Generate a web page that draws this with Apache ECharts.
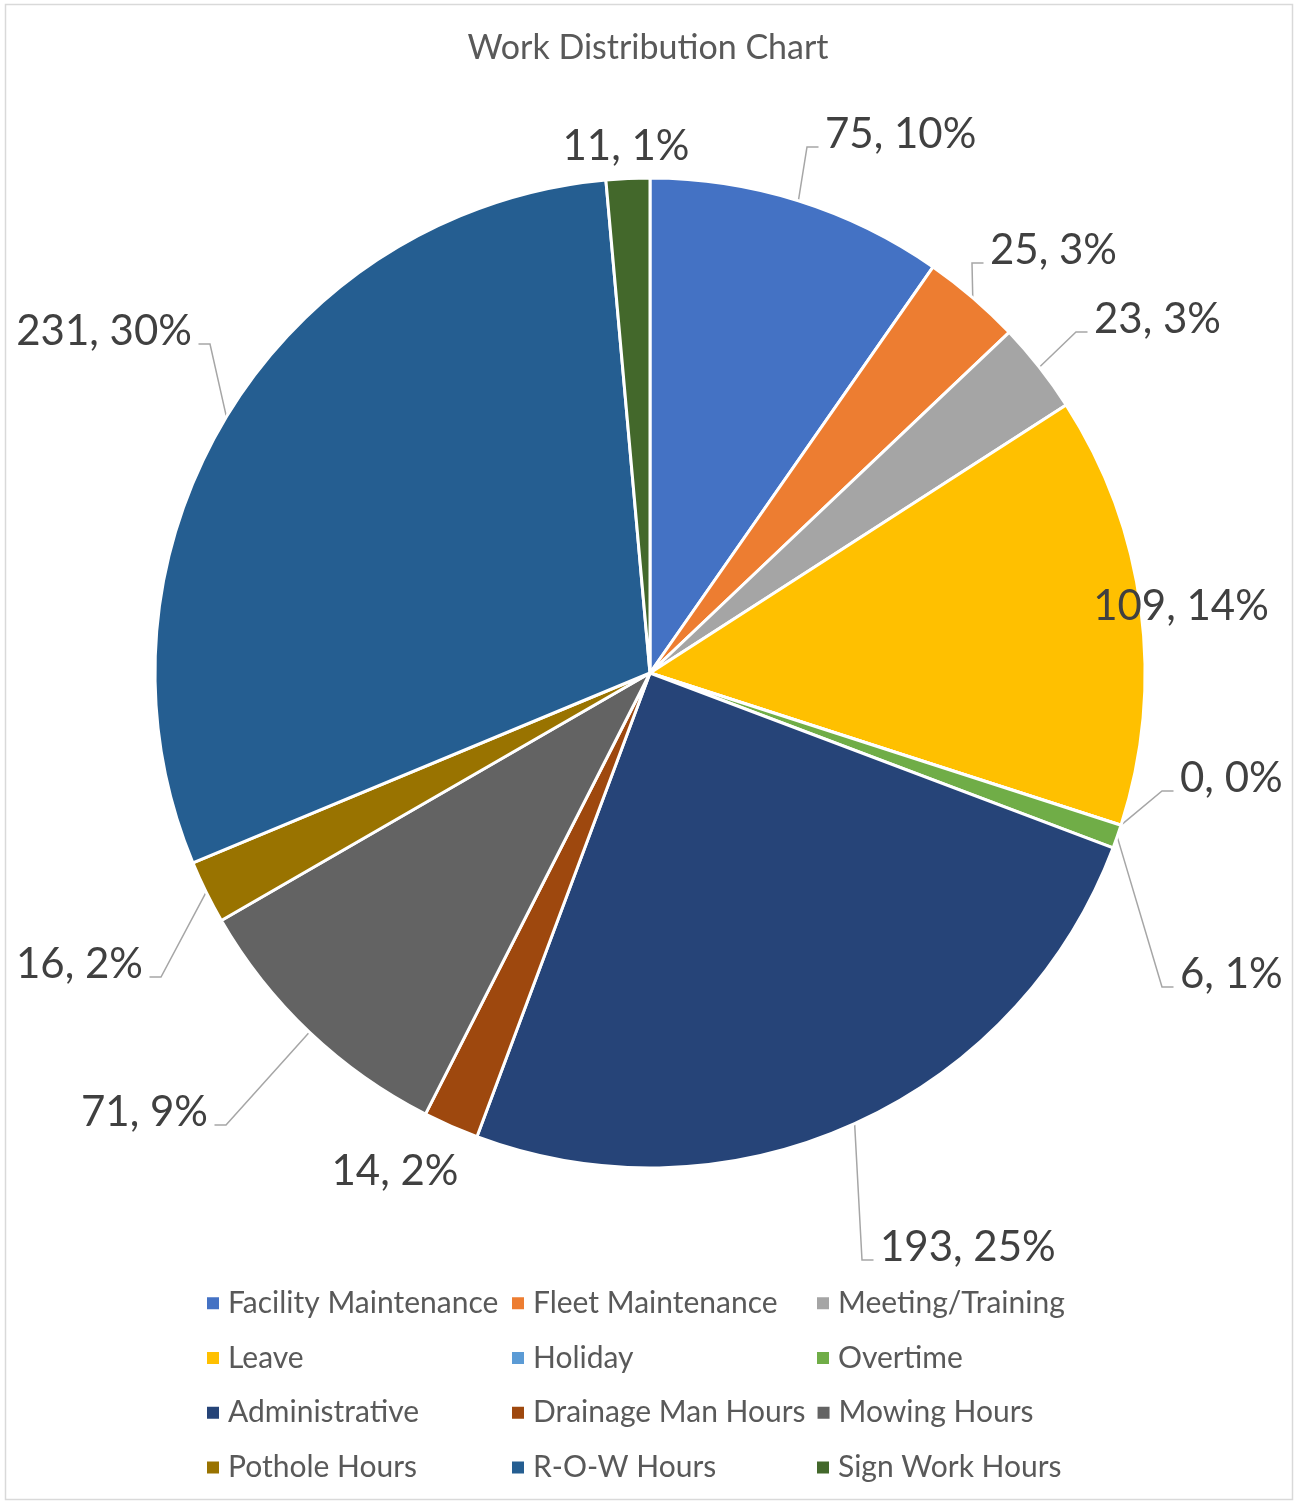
<!DOCTYPE html>
<html>
<head>
<meta charset="utf-8">
<title>Work Distribution Chart</title>
<script src="https://cdn.jsdelivr.net/npm/echarts@6/dist/echarts.min.js"></script>
<style>
  html, body { margin: 0; padding: 0; background: #ffffff; }
  #chart { width: 1296px; height: 1502px; }
</style>
</head>
<body>
<div id="chart"></div>
<script>
// Work categories and the hours logged against each
const categories = [
  'Facility Maintenance', 'Fleet Maintenance', 'Meeting/Training',
  'Leave', 'Holiday', 'Overtime',
  'Administrative', 'Drainage Man Hours', 'Mowing Hours',
  'Pothole Hours', 'R-O-W Hours', 'Sign Work Hours'
];
const hours = [75, 25, 23, 109, 0, 6, 193, 14, 71, 16, 231, 11];

// Office palette, one colour per category
const sliceColors = [
  '#4472C4', '#ED7D31', '#A5A5A5',
  '#FFC000', '#5B9BD5', '#70AD47',
  '#264478', '#9E480E', '#636363',
  '#997300', '#255E91', '#43682B'
];

// Where each value label sits: [x, y of the digit middle, text alignment]
const labelSpots = [
  [825, 133, 'left'],
  [990, 249, 'left'],
  [1094, 318, 'left'],
  [1181, 605, 'center'],
  [1180, 777, 'left'],
  [1180, 973, 'left'],
  [880, 1246, 'left'],
  [395, 1170, 'center'],
  [208, 1111, 'right'],
  [143, 963, 'right'],
  [192, 330, 'right'],
  [626, 145, 'center']
];
// Labels that sit right by their slice and need no leader line
const unledLabels = [3, 7, 11];

const FONT = 'Lato, Carlito, Calibri, "Noto Sans", sans-serif';
const TEXT_DY = 1;

const chart = echarts.init(document.getElementById('chart'), null, { renderer: 'canvas' });

const pieData = categories.map((name, i) => {
  const item = { name: name, value: hours[i], itemStyle: { color: sliceColors[i] } };
  if (unledLabels.indexOf(i) >= 0) item.labelLine = { show: false };
  return item;
});

chart.setOption({
  animation: false,
  backgroundColor: '#ffffff',
  title: {
    text: 'Work Distribution Chart',
    left: 'center',
    top: 28,
    padding: 0,
    textStyle: {
      fontFamily: FONT,
      fontSize: 34,
      fontWeight: 'normal',
      color: '#595959',
      lineHeight: 40
    }
  },
  legend: {
    left: 205,
    top: 1281,
    width: 910,
    padding: 0,
    itemGap: 10,
    itemWidth: 14,
    itemHeight: 14,
    icon: 'rect',
    selectedMode: false,
    data: categories,
    textStyle: {
      fontFamily: FONT,
      fontSize: 30,
      color: '#595959',
      lineHeight: 44.7,
      width: 272,
      overflow: 'none',
      padding: [0, 0, 0, 3]
    }
  },
  graphic: [{
    type: 'rect',
    silent: true,
    z: -1,
    shape: { x: 5.5, y: 4.5, width: 1287, height: 1495 },
    style: { fill: null, stroke: '#d9d9d9', lineWidth: 1.5 }
  }],
  series: [{
    type: 'pie',
    center: [650, 673],
    radius: 495,
    startAngle: 90,
    clockwise: true,
    minAngle: 0,
    avoidLabelOverlap: false,
    percentPrecision: 0,
    itemStyle: { borderColor: '#ffffff', borderWidth: 3 },
    emphasis: { disabled: true },
    label: {
      show: true,
      position: 'outside',
      formatter: '{c}, {d}%',
      fontFamily: FONT,
      fontSize: 42,
      color: '#404040'
    },
    labelLine: {
      show: true,
      length: 20,
      length2: 10,
      lineStyle: { color: '#a6a6a6', width: 1.5 }
    },
    labelLayout: function (p) {
      const spot = labelSpots[p.dataIndex];
      const out = {
        x: spot[0],
        y: spot[1] + TEXT_DY,
        align: spot[2],
        verticalAlign: 'middle',
        hideOverlap: false
      };
      const start = p.labelLinePoints && p.labelLinePoints[0];
      if (start && spot[2] !== 'center') {
        const dir = spot[2] === 'left' ? -1 : 1;
        const lineY = spot[1] + 14;
        out.labelLinePoints = [
          [start[0], start[1]],
          [spot[0] + dir * 18, lineY],
          [spot[0] + dir * 6.5, lineY]
        ];
      }
      return out;
    },
    data: pieData
  }]
});
</script>
</body>
</html>
